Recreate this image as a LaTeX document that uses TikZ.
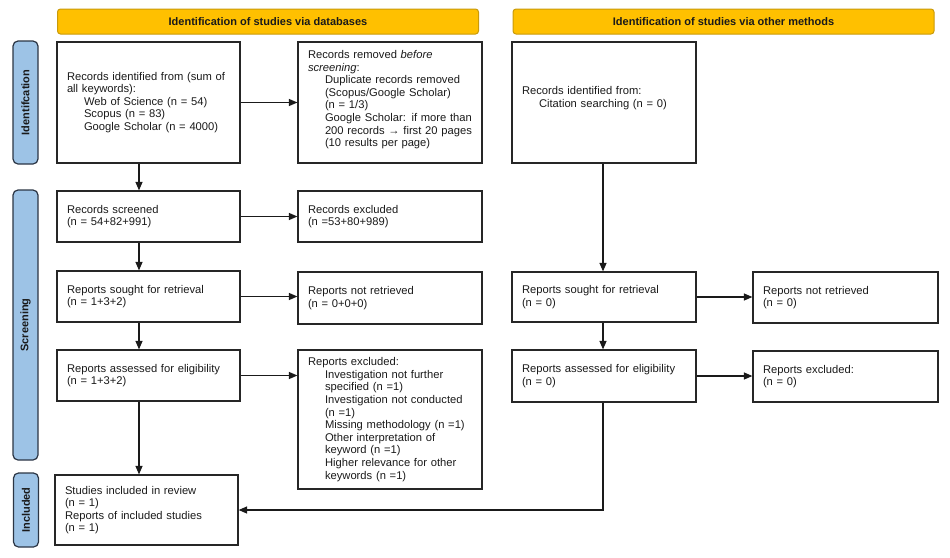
\documentclass[tikz,border=0pt]{standalone}
\usepackage{fontspec}
\setmainfont{Liberation Sans}
\usetikzlibrary{arrows.meta}
\definecolor{hdr}{HTML}{FFC000}
\definecolor{hdrb}{HTML}{C99A0A}
\definecolor{barfill}{HTML}{9DC3E6}
\definecolor{barline}{HTML}{2B3544}
\definecolor{ink}{HTML}{1A1A1A}
\newcommand{\myind}{\hspace*{17pt}}
\begin{document}
\begin{tikzpicture}[x=1pt,y=-1pt,
  box/.style={draw=black!85, line width=1.2pt, rectangle, inner xsep=10pt, inner ysep=0pt,
    align=left, text=ink, font=\fontsize{11.2}{12.6}\selectfont},
  hdrbox/.style={draw=hdrb, fill=hdr, line width=1pt, rounded corners=3pt, minimum width=421pt,
    minimum height=25pt, inner sep=0pt, text=ink, font=\bfseries\fontsize{11}{13}\selectfont},
  barbox/.style={draw=barline, fill=barfill, line width=1.2pt, rounded corners=5pt, rotate=90,
    minimum height=25pt, inner sep=0pt, text=ink, font=\bfseries\fontsize{11}{13}\selectfont},
  arr/.style={draw=ink, line width=1.2pt, -{Triangle[length=8.5pt,width=7pt]}}
]
\useasboundingbox (0,0) rectangle (950,557);

% headers
\node[hdrbox] (h1) at (268,21.5) {Identification of studies via databases};
\node[hdrbox] (h2) at (723.5,21.5) {Identification of studies via other methods};

% side bars
\node[barbox, minimum width=123pt] (sid) at (25.5,102.5) {Identifcation};
\node[barbox, minimum width=270pt] (sscr) at (25.5,325) {Screening};
\node[barbox, minimum width=74pt] (sinc) at (26,510) {Included};

% left column
\node[box, text width=163pt, minimum height=121pt] (b1) at (148.5,102.5)
 {Records identified from (sum of\\all keywords):\\\myind Web of Science (n = 54)\\\myind Scopus (n = 83)\\\myind Google Scholar (n = 4000)};
\node[box, text width=163pt, minimum height=51pt] (scr) at (148.5,216.5)
 {Records screened\\(n = 54+82+991)};
\node[box, text width=163pt, minimum height=51pt] (sought) at (148.5,296.5)
 {Reports sought for retrieval\\(n = 1+3+2)};
\node[box, text width=163pt, minimum height=51pt] (assess) at (148.5,375.5)
 {Reports assessed for eligibility\\(n = 1+3+2)};
\node[box, text width=163pt, minimum height=70pt] (incl) at (146.5,510)
 {Studies included in review\\(n = 1)\\Reports of included studies\\(n = 1)};

% middle column
\node[box, text width=164pt, minimum height=121pt] (rem) at (390,102.5)
 {Records removed \textit{before}\\\textit{screening}:\\\myind Duplicate records removed\\\myind (Scopus/Google Scholar)\\\myind (n = 1/3)\\\myind Google Scholar: if more than\\\myind 200 records → first 20 pages\\\myind (10 results per page)\\[-4.6pt]\mbox{}};
\node[box, text width=164pt, minimum height=51pt] (excl) at (390,216.5)
 {Records excluded\\(n =53+80+989)};
\node[box, text width=164pt, minimum height=52pt] (notret) at (390,298)
 {Reports not retrieved\\(n = 0+0+0)};
\node[box, text width=164pt, minimum height=139pt] (repexc) at (390,419.5)
 {Reports excluded:\\\myind Investigation not further\\\myind specified (n =1)\\\myind Investigation not conducted\\\myind (n =1)\\\myind Missing methodology (n =1)\\\myind Other interpretation of\\\myind keyword (n =1)\\\myind Higher relevance for other\\\myind keywords (n =1)};

% right columns
\node[box, text width=164pt, minimum height=121pt] (oth) at (604,102.5)
 {Records identified from:\\\myind Citation searching (n = 0)\\[-1.6pt]\mbox{}};
\node[box, text width=164pt, minimum height=50pt] (rsought) at (604,297)
 {Reports sought for retrieval\\(n = 0)};
\node[box, text width=164pt, minimum height=52pt] (rassess) at (604,376)
 {Reports assessed for eligibility\\(n = 0)};
\node[box, text width=165pt, minimum height=51pt] (rnotret) at (845.5,297.5)
 {Reports not retrieved\\(n = 0)};
\node[box, text width=165pt, minimum height=51pt] (rexc) at (845.5,376.5)
 {Reports excluded:\\(n = 0)};

% arrow columns
\coordinate (lx) at (139,0);
\coordinate (rx) at (603,0);

% left flow
\draw[arr] (b1.south -| lx) -- (scr.north -| lx);
\draw[arr] (scr.south -| lx) -- (sought.north -| lx);
\draw[arr] (sought.south -| lx) -- (assess.north -| lx);
\draw[arr] (assess.south -| lx) -- (incl.north -| lx);
\draw[arr] (b1.east) -- (b1.east -| rem.west);
\draw[arr] (scr.east) -- (scr.east -| excl.west);
\draw[arr] (sought.east) -- (sought.east -| notret.west);
\draw[arr] (assess.east) -- (assess.east -| repexc.west);

% right flow
\draw[arr] (oth.south -| rx) -- (rsought.north -| rx);
\draw[arr] (rsought.south -| rx) -- (rassess.north -| rx);
\draw[arr] (rsought.east) -- (rsought.east -| rnotret.west);
\draw[arr] (rassess.east) -- (rassess.east -| rexc.west);
\draw[arr] (rassess.south -| rx) |- (incl.east);
\end{tikzpicture}
\end{document}
